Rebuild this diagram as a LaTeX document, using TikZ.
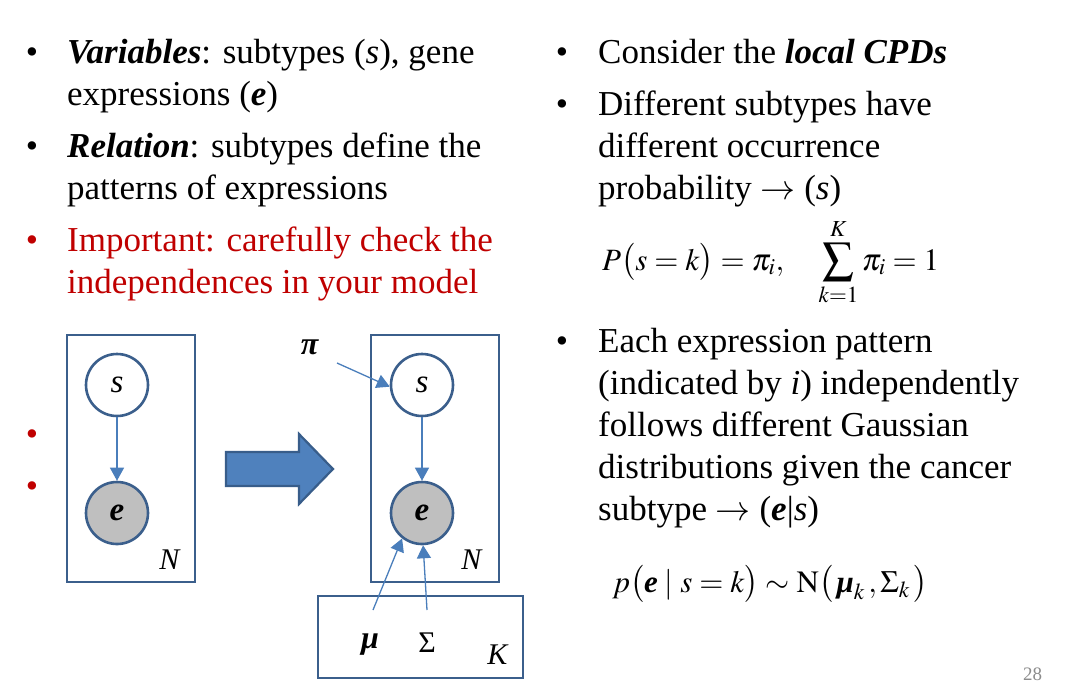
\documentclass[tikz,border=0pt]{standalone}
\usepackage{mathptmx}
\usepackage{fontspec}
\setmainfont{Liberation Serif}
\usetikzlibrary{arrows.meta}
\definecolor{plateblue}{HTML}{3B5F8C}
\definecolor{arrowblue}{HTML}{4A7EBB}
\definecolor{fillblue}{HTML}{4F81BD}
\definecolor{borderblue}{HTML}{385D8A}
\definecolor{darkred}{HTML}{C00000}
\definecolor{greyfill}{HTML}{BFBFBF}
\definecolor{pagegrey}{HTML}{8C8C8C}
\newcommand{\bi}[1]{\textbf{\textit{#1}}}
\tikzset{
  txt/.style={anchor=base west, inner sep=0pt, font=\fontsize{35}{42}\selectfont},
  bul/.style={anchor=base, inner sep=0pt, font=\fontsize{35}{42}\selectfont},
  plate/.style={draw=plateblue, line width=2.5pt, inner sep=0pt},
  var/.style={circle, draw=plateblue, line width=2.6pt, minimum size=62pt, inner sep=0pt, font=\fontsize{33}{36}\selectfont},
  obs/.style={var, fill=greyfill},
  conn/.style={draw=arrowblue, line width=1.3pt, -{Triangle[length=13pt,width=14pt]}},
  lbl/.style={inner sep=0pt, font=\fontsize{30}{34}\selectfont},
}
\begin{document}
\begin{tikzpicture}[x=1pt,y=-1pt]
\useasboundingbox[fill=white] (0,0) rectangle (1086,697);

% left column text
\node[bul] (b1) at (32,63) {•};
\node[txt] (l1) at (67,63) {\bi{Variables}: subtypes (\textit{s}), gene};
\node[txt] (l2) at (67,105) {expressions (\bi{e})};
\node[bul] (b2) at (32,157) {•};
\node[txt] (l3) at (67,157) {\bi{Relation}: subtypes define the};
\node[txt] (l4) at (67,199) {patterns of expressions};
\node[bul, text=darkred] (b3) at (32,251) {•};
\node[txt, text=darkred] (l5) at (67,251) {Important: carefully check the};
\node[txt, text=darkred] (l6) at (67,293) {independences in your model};
\node[bul, text=darkred] (b4) at (32,445) {•};
\node[bul, text=darkred] (b5) at (32,497) {•};

% right column text
\node[bul] (r1b) at (562,63) {•};
\node[txt] (r1) at (598,63) {Consider the \bi{local CPDs}};
\node[bul] (r2b) at (562,115) {•};
\node[txt] (r2) at (598,115) {Different subtypes have};
\node[txt] (r3) at (598,157) {different occurrence};
\node[txt] (r4) at (598,199) {probability $\rightarrow$ (\textit{s})};
\node[txt, font=\fontsize{31}{36}\selectfont] (f1) at (602,270)
  {$\displaystyle P\bigl(s=k\bigr)=\pi_{i},\quad \sum_{k=1}^{K}\pi_{i}=1$};
\node[bul] (r5b) at (562,352) {•};
\node[txt] (r5) at (598,352) {Each expression pattern};
\node[txt] (r6) at (598,394) {(indicated by \textit{i}) independently};
\node[txt] (r7) at (598,436) {follows different Gaussian};
\node[txt] (r8) at (598,478) {distributions given the cancer};
\node[txt] (r9) at (598,520) {subtype $\rightarrow$ (\bi{e}|\textit{s})};
\node[txt, font=\fontsize{31}{36}\selectfont] (f2) at (612,592)
  {$p\bigl(\mbox{\bi{e}}\;|\;s=k\bigr)\sim\mathrm{N}\bigl(\,\mbox{\bi{μ}}_{k}\,,\Sigma_{k}\,\bigr)$};

% left graphical model
\node[plate, minimum width=128pt, minimum height=247pt] (p1) at (131,458.5) {};
\node[var] (s1) at (117,385) {\textit{s}};
\node[obs] (e1) at (117,513) {\bi{e}};
\node[lbl] (n1) at (170,560) {\textit{N}};
\draw[conn] (s1) -- (e1);

% big arrow
\draw[fill=fillblue, draw=borderblue, line width=2.2pt, line join=miter]
  (226,452) -- (299,452) -- (299,434) -- (333,469) -- (299,504) -- (299,486) -- (226,486) -- cycle;

% right graphical model
\node[plate, minimum width=128pt, minimum height=247pt] (p2) at (435,458.5) {};
\node[plate, minimum width=205pt, minimum height=82pt] (pk) at (420.5,637) {};
\node[var] (s2) at (422,385) {\textit{s}};
\node[obs] (e2) at (422,513) {\bi{e}};
\node[lbl] (n2) at (472,560) {\textit{N}};
\node[lbl] (kk) at (498,655) {\textit{K}};
\node[lbl, font=\fontsize{32}{36}\selectfont] (pi) at (310,347) {\bi{π}};
\node[lbl, font=\fontsize{32}{36}\selectfont] (mu) at (370,645) {\bi{μ}};
\node[lbl] (sig) at (427,643) {Σ};
\coordinate (pistart) at (337,363);
\coordinate (mustart) at (373,610);
\coordinate (sigstart) at (427,610);
\draw[conn] (s2) -- (e2);
\draw[conn] (pistart) -- (s2.183);
\draw[conn] (mustart) -- (e2.232);
\draw[conn] (sigstart) -- (e2.272);

% page number
\node[anchor=base west, inner sep=0pt, text=pagegrey, font=\fontsize{19}{22}\selectfont] (pg) at (1023,680) {28};
\end{tikzpicture}
\end{document}
